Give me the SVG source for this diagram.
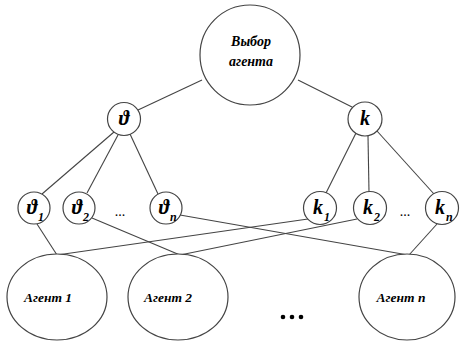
<svg xmlns="http://www.w3.org/2000/svg" width="460" height="341" viewBox="0 0 460 341">
<style>
.n{fill:#fff;stroke:#444;stroke-width:1.2}
.c line{stroke:#444;stroke-width:1.1}
.t{font-family:"Liberation Serif","DejaVu Serif",serif;font-style:italic;font-weight:bold;fill:#000}
.s{font-size:20px}
.sub{font-size:12px}
.a{font-size:13.5px}
.r{font-size:14px}
.d{font-family:"Liberation Serif",serif;font-size:14px;fill:#000}
</style>
<rect width="460" height="341" fill="#fff"/>
<g class="c" id="connectors">
<line x1="202" y1="80" x2="138" y2="110"/>
<line x1="298" y1="80" x2="352" y2="107"/>
<line x1="114" y1="132" x2="42" y2="194"/>
<line x1="118" y1="135" x2="87" y2="193"/>
<line x1="130" y1="134" x2="158" y2="194"/>
<line x1="356" y1="133" x2="326" y2="193"/>
<line x1="368" y1="136" x2="369" y2="192"/>
<line x1="377" y1="131" x2="434" y2="194"/>
<line x1="37" y1="224" x2="57" y2="255"/>
<line x1="92" y1="218" x2="180" y2="255"/>
<line x1="180" y1="215" x2="408" y2="255"/>
<line x1="308" y1="219" x2="57" y2="255"/>
<line x1="357" y1="219" x2="180" y2="255"/>
<line x1="437" y1="224" x2="409" y2="255"/>
</g>
<g id="root"><circle class="n" cx="250" cy="55" r="50"/>
<text class="t r" x="251" y="46" text-anchor="middle">Выбор</text>
<text class="t r" x="251" y="66" text-anchor="middle">агента</text></g>
<g id="theta"><circle class="n" cx="124" cy="119" r="16.5"/><text class="t s" x="124" y="125" text-anchor="middle">ϑ</text></g>
<g id="k"><circle class="n" cx="365" cy="119" r="17"/><text class="t s" x="365" y="125" text-anchor="middle">k</text></g>
<g id="theta1"><circle class="n" cx="34" cy="208" r="16"/><text class="t s" x="32" y="214" text-anchor="middle">ϑ</text><text class="t sub" x="38" y="221">1</text></g>
<g id="theta2"><circle class="n" cx="79" cy="208" r="16"/><text class="t s" x="77" y="214" text-anchor="middle">ϑ</text><text class="t sub" x="83" y="221">2</text></g>
<g id="thetan"><circle class="n" cx="166" cy="208" r="16"/><text class="t s" x="164" y="214" text-anchor="middle">ϑ</text><text class="t sub" x="170" y="221">n</text></g>
<g id="k1"><circle class="n" cx="320" cy="208" r="16.5"/><text class="t s" x="318" y="214" text-anchor="middle">k</text><text class="t sub" x="324" y="221">1</text></g>
<g id="k2"><circle class="n" cx="370" cy="208" r="16.5"/><text class="t s" x="368" y="214" text-anchor="middle">k</text><text class="t sub" x="374" y="221">2</text></g>
<g id="kn"><circle class="n" cx="442" cy="208" r="16.5"/><text class="t s" x="440" y="214" text-anchor="middle">k</text><text class="t sub" x="446" y="221">n</text></g>
<text class="d" x="120" y="216" text-anchor="middle">...</text>
<text class="d" x="405" y="216" text-anchor="middle">...</text>
<g id="agent1"><ellipse class="n" cx="57" cy="297" rx="50" ry="43"/><text class="t a" x="48" y="302" text-anchor="middle">Агент 1</text></g>
<g id="agent2"><ellipse class="n" cx="178" cy="297" rx="50" ry="43"/><text class="t a" x="168" y="302" text-anchor="middle">Агент 2</text></g>
<g id="agentn"><ellipse class="n" cx="407" cy="297" rx="48" ry="43"/><text class="t a" x="401" y="302" text-anchor="middle">Агент n</text></g>
<g fill="#000"><circle cx="283" cy="317" r="2.3"/><circle cx="292" cy="317" r="2.3"/><circle cx="301" cy="317" r="2.3"/></g>
</svg>
